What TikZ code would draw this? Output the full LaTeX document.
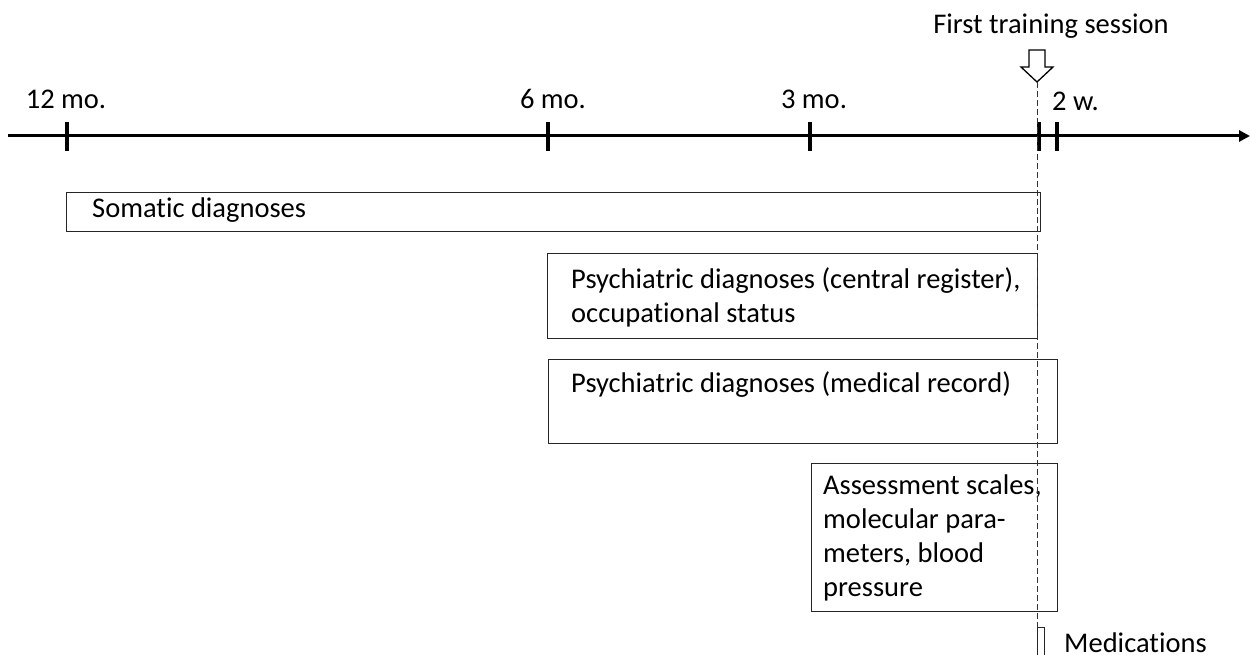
\documentclass[tikz,border=0pt]{standalone}
\usepackage{fontspec}
\setmainfont{Carlito}[Ligatures=NoCommon]
\usetikzlibrary{arrows.meta}

\tikzset{
  axis/.style={line width=3pt, -{Triangle[length=11pt,width=11pt]}},
  tickmark/.style={line width=3.5pt},
  lbl/.style={anchor=base, inner sep=0pt, font=\fontsize{28.5}{34}\selectfont},
  period/.style={draw=black!85, line width=1.3pt, anchor=north west, inner sep=0pt},
  boxtext/.style={anchor=base west, align=left, inner sep=0pt, font=\fontsize{28.5}{34}\selectfont},
}

\begin{document}
\begin{tikzpicture}[x=1pt,y=-1pt]
  \useasboundingbox (0,0) rectangle (1250,655);
  % time axis
  \coordinate (ax0) at (8,136);
  \coordinate (ax1) at (1250,136);
  \draw[axis] (ax0) -- (ax1);
  \foreach \tk/\x in {m12/67, m6/548, m3/810, w0/1039, w2/1057}
    \draw[tickmark] (\x,122) coordinate (\tk) -- (\x,151);
  \node[lbl] (l12) at (66,109) {12 mo.};
  \node[lbl] (l6) at (553,109) {6 mo.};
  \node[lbl] (l3) at (814,109) {3 mo.};
  \node[lbl, anchor=base west] (l2w) at (1052,111) {2 w.};

  % first training session
  \node[lbl] (first) at (1051,34) {First training session};
  \coordinate (session) at (1037,82);
  \draw[line width=1.3pt, fill=white] (session) -- ++(-16,-15) -- ++(8,0) -- ++(0,-17)
    -- ++(16,0) -- ++(0,17) -- ++(8,0) -- cycle;

  % periods (multi-line texts sit on the baseline of their last line)
  \node[period, minimum width=974, minimum height=39] (somatic) at (66,192) {};
  \node[boxtext] (tsomatic) at (92,218) {Somatic diagnoses};
  \node[period, minimum width=490, minimum height=85] (central) at (547,253) {};
  \node[boxtext] (tcentral) at (571,322) {Psychiatric diagnoses (central register),\\occupational status};
  \node[period, minimum width=509, minimum height=84] (medical) at (548,359) {};
  \node[boxtext] (tmedical) at (571,392) {Psychiatric diagnoses (medical record)};
  \node[period, minimum width=246, minimum height=148] (assess) at (811,463) {};
  \node[boxtext] (tassess) at (823,596) {Assessment scales,\\molecular para-\\meters, blood\\pressure};

  % medications
  \node[period, minimum width=7, minimum height=40] (meds) at (1037,627) {};
  \node[boxtext] (tmeds) at (1064,652) {Medications};
  \draw[black!80, line width=0.8pt, dash pattern=on 6pt off 3pt] (session) -- (meds.north west);
\end{tikzpicture}
\end{document}
